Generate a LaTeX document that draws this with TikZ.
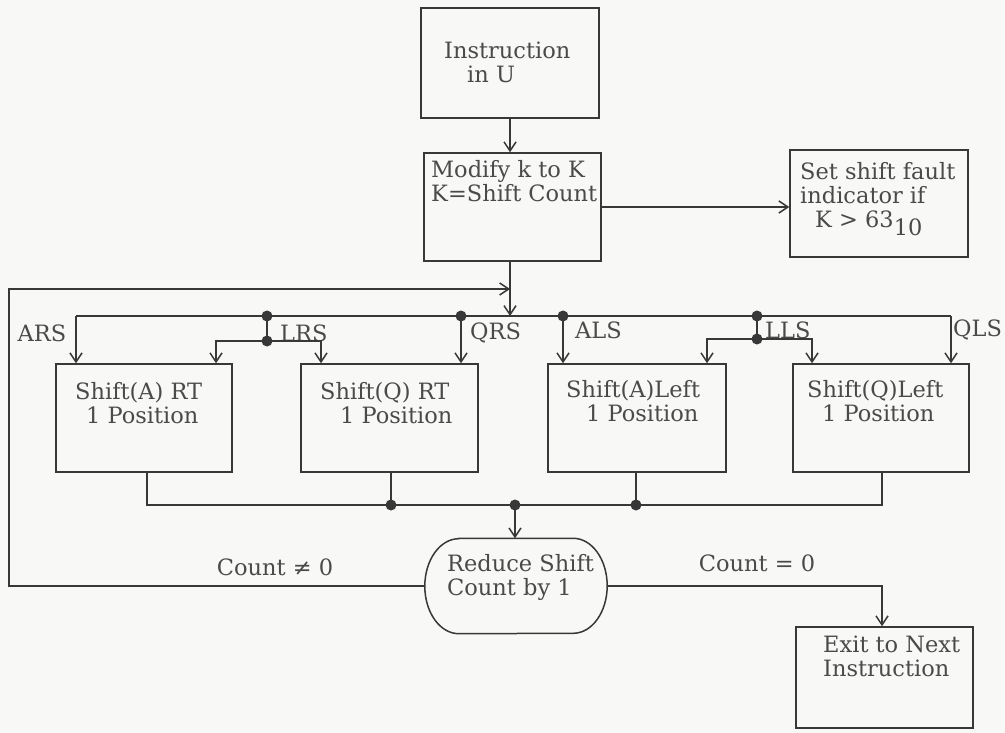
\documentclass[tikz,border=0pt]{standalone}
\usepackage{fontspec}
\setmainfont{DejaVu Serif}
\usetikzlibrary{arrows.meta}
\definecolor{ln}{HTML}{383838}
\definecolor{tx}{HTML}{4A4A4A}
\definecolor{paper}{HTML}{F8F8F6}
\begin{document}
\begin{tikzpicture}[x=1pt,y=-1pt,
  box/.style={draw=ln,line width=1.5pt,rectangle,inner sep=0},
  txt/.style={inner sep=0,anchor=west,align=left,text=tx,font=\fontsize{22.5}{24}\selectfont},
  lbl/.style={inner sep=0,text=tx,font=\fontsize{22.5}{24}\selectfont},
  wire/.style={draw=ln,line width=1.5pt},
  arr/.style={wire,-{Straight Barb[length=9pt,width=12pt]}},
  jdot/.style={circle,fill=ln,inner sep=0,minimum size=11pt}]
\fill[paper] (0,0) rectangle (1005,733);
\useasboundingbox (0,0) rectangle (1005,733);

% boxes
\node[box,minimum width=178pt,minimum height=110pt] (instr) at (510,63) {};
\node[box,minimum width=177pt,minimum height=108pt] (modify) at (512.5,207) {};
\node[box,minimum width=178pt,minimum height=107pt] (set) at (879,203.5) {};
\node[box,minimum width=176pt,minimum height=108pt] (art) at (144,418) {};
\node[box,minimum width=177pt,minimum height=108pt] (qrt) at (389.5,418) {};
\node[box,minimum width=178pt,minimum height=108pt] (alft) at (637,418) {};
\node[box,minimum width=176pt,minimum height=108pt] (qlft) at (881,418) {};
\node[minimum width=182pt,minimum height=95pt,inner sep=0] (red) at (516,586) {};
\node[box,minimum width=177pt,minimum height=101pt] (exit) at (884.5,677.5) {};
\draw[wire] ([xshift=34pt]red.north west) -- ([xshift=-34pt]red.north east)
  arc[start angle=90,end angle=-90,x radius=34pt,y radius=47.5pt]
  -- ([xshift=34pt]red.south west)
  arc[start angle=270,end angle=90,x radius=34pt,y radius=47.5pt] -- cycle;

% texts
\node[txt] (instrT) at (444,62.5) {Instruction\\\hspace*{23pt}in U};
\node[txt] (modT) at (431,181.5) {Modify k to K\\K=Shift Count};
\node[txt] (setT) at (800,199) {Set shift fault\\indicator if\\\hspace*{15pt}K > 63\raisebox{-8pt}{10}};
\node[txt] (artT) at (75,403.5) {Shift(A) RT\\\hspace*{11pt}1 Position};
\node[txt] (qrtT) at (320,403.5) {Shift(Q) RT\\\hspace*{20pt}1 Position};
\node[txt] (alftT) at (566,401) {Shift(A)Left\\\hspace*{20pt}1 Position};
\node[txt] (qlftT) at (807,401) {Shift(Q)Left\\\hspace*{15pt}1 Position};
\node[txt] (redT) at (447,577.5) {Reduce Shift\\Count by 1};
\node[txt] (exitT) at (823,656.5) {Exit to Next\\Instruction};

% labels
\node[lbl] (ars) at (42,333) {ARS};
\node[lbl,anchor=west] (lrs) at (280,333) {LRS};
\node[lbl,anchor=west] (qrs) at (470,333) {QRS};
\node[lbl,anchor=west] (als) at (575,330) {ALS};
\node[lbl,anchor=west] (lls) at (765,330) {LLS};
\node[lbl,anchor=west] (qls) at (953,330) {QLS};
\node[lbl] (cne) at (275,567) {Count ≠ 0};
\node[lbl] (ceq) at (757,563) {Count = 0};

% coordinates
\coordinate (busM) at (510,316);
\coordinate (fbc) at (9,289);
\coordinate (fbj) at (510,289);
\coordinate (busA) at (76,316);
\coordinate (busL) at (267,316);
\coordinate (busL2) at (267,341);
\coordinate (lrsA) at (216,341);
\coordinate (lrsQ) at (321,341);
\coordinate (busQ) at (461,316);
\coordinate (busAL) at (563,316);
\coordinate (busLL) at (757,316);
\coordinate (busLL2) at (757,339);
\coordinate (llsA) at (707,339);
\coordinate (llsQ) at (812,339);
\coordinate (busQL) at (951,316);
\coordinate (bl) at (147,505);
\coordinate (bq) at (391,505);
\coordinate (bm) at (515,505);
\coordinate (ba) at (636,505);
\coordinate (br) at (882,505);
\coordinate (exc) at (882,586);

% connectors
\draw[arr] (instr.south) -- (instr.south |- modify.north);
\draw[arr] (modify.east) -- (modify.east -| set.west);
\draw[arr] (instr.south |- modify.south) -- (busM);
\draw[arr] (red.west) -| (fbc) -- (fbj);
\draw[wire] (busA) -- (busQL);
\draw[arr] (busA) -- (busA |- art.north);
\draw[wire] (busL) -- (busL2);
\draw[arr] (busL2) -- (lrsA) -- (lrsA |- art.north);
\draw[arr] (busL2) -- (lrsQ) -- (lrsQ |- qrt.north);
\draw[arr] (busQ) -- (busQ |- qrt.north);
\draw[arr] (busAL) -- (busAL |- alft.north);
\draw[wire] (busLL) -- (busLL2);
\draw[arr] (busLL2) -- (llsA) -- (llsA |- alft.north);
\draw[arr] (busLL2) -- (llsQ) -- (llsQ |- qlft.north);
\draw[arr] (busQL) -- (busQL |- qlft.north);
\draw[wire] (bl |- art.south) -- (bl) -- (br) -- (br |- qlft.south);
\draw[wire] (bq |- qrt.south) -- (bq);
\draw[wire] (ba |- alft.south) -- (ba);
\draw[arr] (bm) -- (bm |- red.north);
\draw[arr] (red.east) -- (exc) -- (exc |- exit.north);

% junction dots
\node[jdot] (j1) at (busL) {};
\node[jdot] (j2) at (busL2) {};
\node[jdot] (j3) at (busQ) {};
\node[jdot] (j4) at (busAL) {};
\node[jdot] (j5) at (busLL) {};
\node[jdot] (j6) at (busLL2) {};
\node[jdot] (j7) at (bq) {};
\node[jdot] (j8) at (bm) {};
\node[jdot] (j9) at (ba) {};
\end{tikzpicture}
\end{document}
